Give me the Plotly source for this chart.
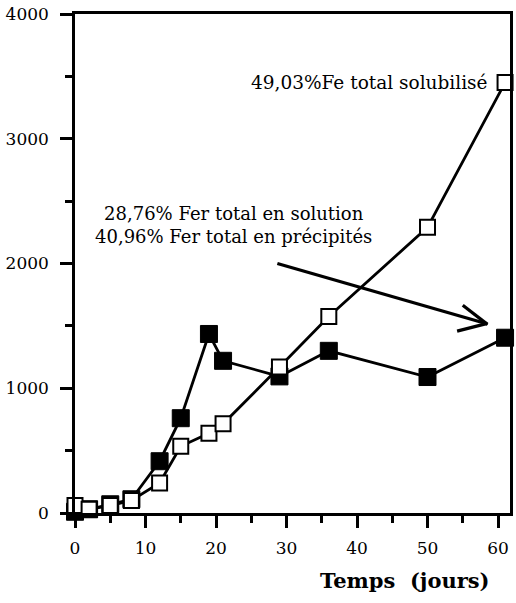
import plotly.graph_objects as go

days = [0, 2, 5, 8, 12, 15, 19, 21, 29, 36, 50, 61]
fe_solubilise = [60, 30, 60, 100, 240, 535, 640, 715, 1170, 1575, 2290, 3450]
fe_precipite = [10, 30, 70, 110, 415, 760, 1435, 1220, 1095, 1300, 1090, 1405]

x_ticks = [0, 10, 20, 30, 40, 50, 60]
y_ticks = [0, 1000, 2000, 3000, 4000]

FONT = "DejaVu Serif"

fig = go.Figure()
fig.add_trace(go.Scatter(
    x=days, y=fe_precipite, mode="lines+markers",
    line=dict(color="black", width=2.8),
    marker=dict(symbol="square", size=17, color="black", line=dict(color="black", width=1)),
    cliponaxis=False, showlegend=False))
fig.add_trace(go.Scatter(
    x=days, y=fe_solubilise, mode="lines+markers",
    line=dict(color="black", width=2.8),
    marker=dict(symbol="square", size=15, color="white", line=dict(color="black", width=2)),
    cliponaxis=False, showlegend=False))

fig.add_annotation(x=58.9, y=3450, xref="x", yref="y", text="49,03%Fe total solubilisé",
                   showarrow=False, xanchor="right", yanchor="middle",
                   font=dict(family=FONT, size=18.5, color="black"))
fig.add_annotation(x=22.5, y=2310, xref="x", yref="y",
                   text="28,76% Fer total en solution<br>40,96% Fer total en précipités",
                   showarrow=False, xanchor="center", yanchor="middle",
                   font=dict(family=FONT, size=18, color="black"))
fig.add_annotation(x=1, y=0, xref="paper", yref="paper", text="<b>Temps  (jours)</b>",
                   showarrow=False, xanchor="right", yanchor="middle",
                   font=dict(family=FONT, size=21, color="black"))

# arrow (open head)
arrow_style = dict(color="black", width=3.2)
fig.add_shape(type="line", xref="x", yref="y", x0=28.7, y0=2000, x1=58.4, y1=1517, line=arrow_style)
fig.add_shape(type="line", xref="x", yref="y", x0=55.0, y0=1665, x1=58.5, y1=1512, line=arrow_style)
fig.add_shape(type="line", xref="x", yref="y", x0=54.2, y0=1458, x1=58.5, y1=1520, line=arrow_style)

fig.update_xaxes(range=[0, 61.7], tickvals=x_ticks, ticks="outside", ticklen=12, tickwidth=3,
                 tickcolor="black", showgrid=False, zeroline=False,
                 showline=True, linecolor="black", linewidth=2.5, mirror=True,
                 minor=dict(dtick=5, tick0=0, ticks="outside", ticklen=7, tickwidth=3, tickcolor="black"),
                 tickfont=dict(family=FONT, size=17, color="black"), ticklabelstandoff=6)
fig.update_yaxes(range=[0, 4000], tickvals=y_ticks, ticks="outside", ticklen=12, tickwidth=3,
                 tickcolor="black", showgrid=False, zeroline=False,
                 showline=True, linecolor="black", linewidth=2.5, mirror=True,
                 minor=dict(dtick=500, tick0=0, ticks="outside", ticklen=7, tickwidth=3, tickcolor="black"),
                 tickfont=dict(family=FONT, size=17, color="black"), ticklabelstandoff=8)

fig.update_layout(width=516, height=603, margin=dict(l=75, r=6, t=14, b=90, autoexpand=False),
                  plot_bgcolor="white", paper_bgcolor="white")
# place the x title from pixel positions (right edge 492, centre y 580)
fig.layout.annotations[2].x = (492 - 75) / (516 - 75 - 6)
fig.layout.annotations[2].y = -(580 - (603 - 90)) / (603 - 14 - 90)
fig.write_html("out.html", config={"displayModeBar": False},
               post_script="document.body.style.margin='0px';")
